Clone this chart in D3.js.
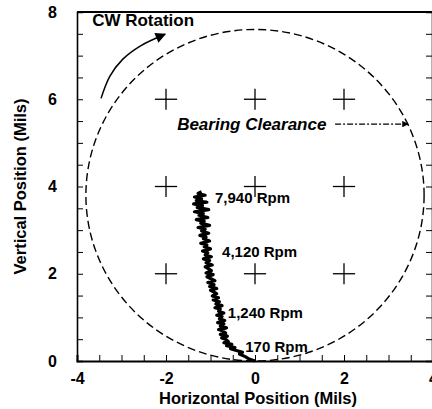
<!DOCTYPE html>
<html>
<head>
<meta charset="utf-8">
<script src="https://cdn.jsdelivr.net/npm/d3@7"></script>
<style>
  body { margin: 0; background: #fff; }
  svg { display: block; font-family: "Liberation Sans", Arial, sans-serif; }
  .axis path, .axis line { stroke: #000; }
  .axis text { font-size: 16px; font-weight: bold; fill: #000; }
</style>
</head>
<body>
<div id="chart"></div>
<script>
// ---- data ----
var xTicks = [-4, -2, 0, 2, 4];
var yTicks = [0, 2, 4, 6, 8];

// reference crosses (mils)
var gridX = [-2, 0, 2];
var gridY = [2, 4, 6];

// bearing clearance circle (center + radius, mils)
var clearCenter = [0, 3.8];
var clearRadius = 3.8;

// shaft centerline path, 170 rpm up to 7,940 rpm (x, y in mils)
var orbit = [
  [0.00, 0.00], [-0.12, 0.04], [-0.22, 0.10], [-0.35, 0.16], [-0.28, 0.20],
  [-0.42, 0.24], [-0.55, 0.28], [-0.45, 0.31], [-0.64, 0.35], [-0.52, 0.38],
  [-0.70, 0.42], [-0.60, 0.45], [-0.66, 0.50], [-0.75, 0.53], [-0.62, 0.57],
  [-0.78, 0.61], [-0.66, 0.64], [-0.72, 0.69], [-0.82, 0.72], [-0.64, 0.76],
  [-0.78, 0.80], [-0.70, 0.85], [-0.84, 0.88], [-0.68, 0.93], [-0.80, 0.97],
  [-0.74, 1.02], [-0.86, 1.05], [-0.70, 1.10], [-0.82, 1.14], [-0.78, 1.19],
  [-0.90, 1.22], [-0.74, 1.27], [-0.88, 1.31], [-0.80, 1.36], [-0.94, 1.40],
  [-0.82, 1.45], [-0.96, 1.49], [-0.86, 1.54], [-0.92, 1.58], [-1.00, 1.62],
  [-0.86, 1.66], [-1.02, 1.71], [-0.92, 1.75], [-1.06, 1.80], [-0.90, 1.84],
  [-1.00, 1.89], [-1.08, 1.93], [-0.94, 1.98], [-1.10, 2.02], [-0.98, 2.07],
  [-1.04, 2.11], [-1.12, 2.16], [-0.96, 2.20], [-1.10, 2.25], [-1.02, 2.30],
  [-1.16, 2.34], [-0.98, 2.39], [-1.12, 2.43], [-1.06, 2.48], [-1.18, 2.52],
  [-1.00, 2.57], [-1.14, 2.62], [-1.08, 2.66], [-1.22, 2.70], [-1.02, 2.75],
  [-1.16, 2.80], [-1.10, 2.84], [-1.24, 2.88], [-1.04, 2.93], [-1.20, 2.98],
  [-1.12, 3.02], [-1.28, 3.06], [-1.02, 3.11], [-1.22, 3.16], [-1.14, 3.20],
  [-1.32, 3.24], [-1.06, 3.29], [-1.26, 3.34], [-1.16, 3.38], [-1.36, 3.42],
  [-1.04, 3.47], [-1.30, 3.52], [-1.18, 3.56], [-1.38, 3.60], [-1.08, 3.64],
  [-1.32, 3.68], [-1.20, 3.72], [-1.36, 3.76], [-1.12, 3.80], [-1.28, 3.84],
  [-1.20, 3.88]
];

var rpmText = ["7,940 Rpm", "4,120 Rpm", "1,240 Rpm", "170 Rpm"];
var rpmX = [-0.90, -0.74, -0.61, -0.22];
var rpmY = [3.75, 2.50, 1.10, 0.34];

// rotation arrow and clearance arrow (mils)
var cwArrow = [[-3.46, 6.02], [-3.26, 6.53], [-2.97, 6.92], [-2.58, 7.22], [-2.02, 7.49]];
var clearArrow = [[1.80, 5.43], [3.44, 5.43]];

// ---- layout ----
var W = 432, H = 409;
var margin = {top: 12, right: -1, bottom: 48, left: 77};

var svg = d3.select("#chart").append("svg")
    .attr("width", W)
    .attr("height", H);

var x = d3.scaleLinear().domain([-4, 4]).range([margin.left, W - margin.right]);
var y = d3.scaleLinear().domain([0, 8]).range([H - margin.bottom, margin.top]);

var defs = svg.append("defs");
defs.append("marker")
    .attr("id", "head")
    .attr("viewBox", "0 0 10 10")
    .attr("refX", 9).attr("refY", 5)
    .attr("markerWidth", 7).attr("markerHeight", 5)
    .attr("markerUnits", "strokeWidth")
    .attr("orient", "auto")
  .append("path")
    .attr("d", "M0,0L10,5L0,10Z")
    .attr("fill", "#000");
defs.append("marker")
    .attr("id", "head2")
    .attr("viewBox", "0 0 10 10")
    .attr("refX", 9).attr("refY", 5)
    .attr("markerWidth", 14).attr("markerHeight", 7)
    .attr("markerUnits", "strokeWidth")
    .attr("orient", "auto")
  .append("path")
    .attr("d", "M0,0L10,5L0,10Z")
    .attr("fill", "#000");

// minor ticks every half mil
var xMinor = d3.range(-4, 4.01, 0.5);
var yMinor = d3.range(0, 8.01, 0.5);

// bottom axis (ticks inside)
var xAxis = d3.axisBottom(x)
    .tickValues(xMinor)
    .tickSize(-6)
    .tickPadding(12)
    .tickFormat(function (d) { return xTicks.indexOf(d) >= 0 ? d3.format("d")(d).replace("\u2212", "-") : ""; });

svg.append("g")
    .attr("class", "axis")
    .attr("transform", "translate(0," + y(0) + ")")
    .call(xAxis)
    .call(function (g) { g.select(".domain").attr("stroke-width", 2); });

// left axis
var yAxis = d3.axisLeft(y)
    .tickValues(yMinor)
    .tickSize(-6)
    .tickPadding(20)
    .tickFormat(function (d) { return yTicks.indexOf(d) >= 0 ? d : ""; });

svg.append("g")
    .attr("class", "axis")
    .attr("transform", "translate(" + x(-4) + ",0)")
    .call(yAxis)
    .call(function (g) { g.select(".domain").attr("stroke-width", 1.6); });

// right axis, ticks only
svg.append("g")
    .attr("class", "axis")
    .attr("transform", "translate(" + (x(4) - 1) + ",0)")
    .call(d3.axisRight(y).tickValues(yMinor).tickSize(-6).tickFormat(""))
    .call(function (g) { g.select(".domain").attr("stroke-width", 1.6); });

// top frame
svg.append("line")
    .attr("x1", x(-4)).attr("x2", x(4))
    .attr("y1", y(8)).attr("y2", y(8))
    .attr("stroke", "#000").attr("stroke-width", 2.2);

// reference crosses
var crosses = [];
gridY.forEach(function (gy) { gridX.forEach(function (gx) { crosses.push([gx, gy]); }); });
var cg = svg.append("g").attr("stroke", "#000").attr("stroke-width", 1.3);
cg.selectAll(".h").data(crosses).enter().append("line")
    .attr("x1", function (d) { return x(d[0] - 0.25); })
    .attr("x2", function (d) { return x(d[0] + 0.25); })
    .attr("y1", function (d) { return y(d[1]); })
    .attr("y2", function (d) { return y(d[1]); });
cg.selectAll(".v").data(crosses).enter().append("line")
    .attr("x1", function (d) { return x(d[0]); })
    .attr("x2", function (d) { return x(d[0]); })
    .attr("y1", function (d) { return y(d[1] - 0.24); })
    .attr("y2", function (d) { return y(d[1] + 0.24); });

// bearing clearance circle
svg.append("ellipse")
    .attr("cx", x(clearCenter[0]))
    .attr("cy", y(clearCenter[1]))
    .attr("rx", x(clearRadius) - x(0))
    .attr("ry", y(0) - y(clearRadius))
    .attr("fill", "none")
    .attr("stroke", "#000")
    .attr("stroke-width", 1.4)
    .attr("stroke-dasharray", "8,4");

// shaft path
svg.append("path")
    .datum(orbit)
    .attr("d", d3.line().x(function (d) { return x(d[0]); }).y(function (d) { return y(d[1]); }))
    .attr("fill", "none")
    .attr("stroke", "#000")
    .attr("stroke-width", 3.2)
    .attr("stroke-linejoin", "round");

// rpm labels
svg.selectAll(".rpm").data(rpmText).enter().append("text")
    .attr("x", function (d, i) { return x(rpmX[i]); })
    .attr("y", function (d, i) { return y(rpmY[i]); })
    .attr("dy", "0.36em")
    .style("font-size", "15px")
    .style("font-weight", "bold")
    .text(function (d) { return d; });

// CW rotation arrow
svg.append("path")
    .datum(cwArrow)
    .attr("d", d3.line().curve(d3.curveCatmullRom)
        .x(function (d) { return x(d[0]); }).y(function (d) { return y(d[1]); }))
    .attr("fill", "none")
    .attr("stroke", "#000")
    .attr("stroke-width", 1.5)
    .attr("marker-end", "url(#head2)");

svg.append("text")
    .attr("x", x(-3.66))
    .attr("y", y(7.82))
    .attr("dy", "0.36em")
    .style("font-size", "17px")
    .style("font-weight", "bold")
    .text("CW Rotation");

// bearing clearance label + arrow
svg.append("text")
    .attr("x", x(-1.75))
    .attr("y", y(5.43))
    .attr("dy", "0.36em")
    .style("font-size", "17px")
    .style("font-weight", "bold")
    .style("font-style", "italic")
    .text("Bearing Clearance");

svg.append("path")
    .datum(clearArrow)
    .attr("d", d3.line().x(function (d) { return x(d[0]); }).y(function (d) { return y(d[1]); }))
    .attr("stroke", "#000")
    .attr("stroke-width", 1.3)
    .attr("stroke-dasharray", "6,2,2,2")
    .attr("marker-end", "url(#head)");

// axis titles
svg.append("text")
    .attr("x", (x(-4) + x(4)) / 2 + 3)
    .attr("y", H - 5)
    .attr("text-anchor", "middle")
    .style("font-size", "16.5px")
    .style("font-weight", "bold")
    .text("Horizontal Position (Mils)");

svg.append("text")
    .attr("transform", "translate(26," + y(4) + ") rotate(-90)")
    .attr("text-anchor", "middle")
    .style("font-size", "16.5px")
    .style("font-weight", "bold")
    .text("Vertical Position (Mils)");
</script>
</body>
</html>
